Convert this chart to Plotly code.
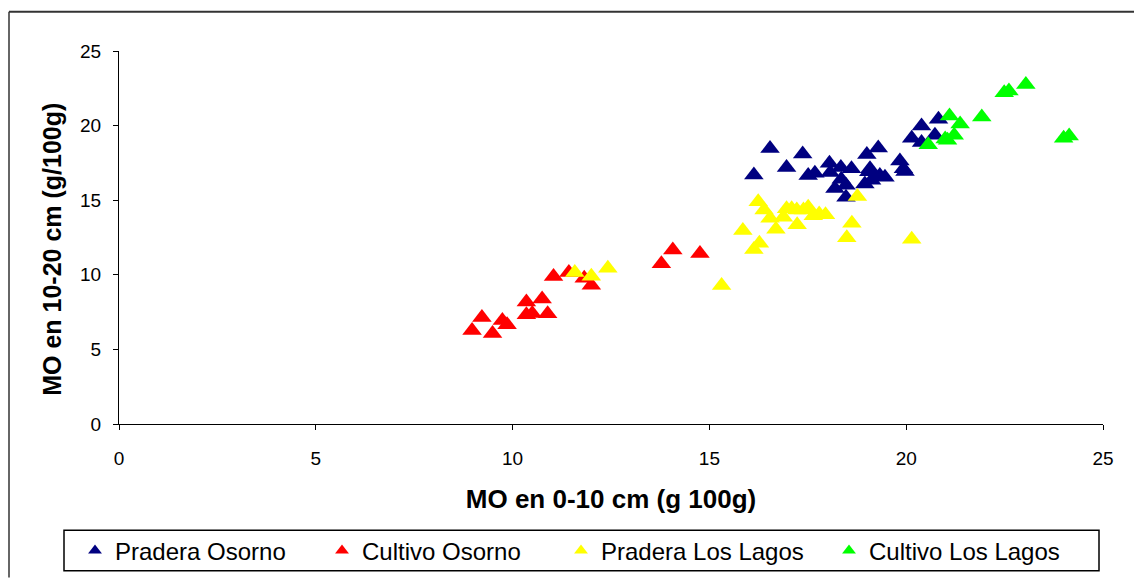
import plotly.graph_objects as go

# Materia orgánica (g/100g): capa 0-10 cm (x) frente a capa 10-20 cm (y)
pradera_osorno_x = [16.13, 16.54, 16.96, 17.37, 17.51, 17.68, 18.05, 18.07, 18.34, 18.61,
                    18.19, 18.47, 18.47, 19.00, 19.29, 19.08, 18.95, 19.12, 19.46, 19.33,
                    19.84, 19.93, 19.97, 20.14, 20.39, 20.39, 20.82, 20.73, 19.05, 18.35]
pradera_osorno_y = [16.69, 18.46, 17.20, 18.09, 16.66, 16.81, 17.48, 16.85, 17.20, 17.10,
                    15.78, 16.00, 15.20, 18.07, 18.50, 17.10, 16.08, 16.33, 16.54, 16.66,
                    17.63, 17.10, 16.93, 19.15, 19.98, 18.87, 20.43, 19.36, 16.90, 16.40]

cultivo_osorno_x = [8.97, 9.22, 9.49, 9.74, 9.86, 10.35, 10.35, 10.50, 10.75, 10.89,
                    11.04, 11.43, 11.82, 12.00, 13.78, 14.07, 14.76]
cultivo_osorno_y = [6.27, 7.14, 6.07, 6.93, 6.66, 8.18, 7.32, 7.40, 8.38, 7.39,
                    9.89, 10.16, 9.77, 9.30, 10.74, 11.67, 11.43]

pradera_lagos_x = [11.58, 12.00, 12.42, 15.31, 15.85, 16.13, 16.27, 16.24, 16.39, 16.54,
                   16.69, 16.88, 16.96, 17.09, 17.22, 17.23, 17.39, 17.51, 17.64, 17.79,
                   17.95, 18.49, 18.62, 18.76, 20.14]
pradera_lagos_y = [10.16, 9.90, 10.44, 9.28, 12.97, 11.69, 12.12, 14.89, 14.35, 13.79,
                   13.06, 13.85, 14.43, 14.43, 14.35, 13.36, 14.35, 14.53, 13.96, 14.07,
                   14.02, 12.49, 13.46, 15.25, 12.38]

cultivo_lagos_x = [20.56, 20.99, 21.05, 21.10, 21.22, 21.37, 21.92, 22.49, 22.61, 23.04,
                   24.00, 24.14]
cultivo_lagos_y = [18.72, 19.10, 19.02, 20.65, 19.36, 20.10, 20.57, 22.21, 22.32, 22.76,
                   19.16, 19.31]

series_names = ["Pradera Osorno", "Cultivo Osorno", "Pradera Los Lagos", "Cultivo Los Lagos"]
series_colors = ["#000080", "#FF0000", "#FFFF00", "#00FF00"]
series_x = [pradera_osorno_x, cultivo_osorno_x, pradera_lagos_x, cultivo_lagos_x]
series_y = [pradera_osorno_y, cultivo_osorno_y, pradera_lagos_y, cultivo_lagos_y]

x_ticks = [0, 5, 10, 15, 20, 25]
y_ticks = [0, 5, 10, 15, 20, 25]

# plot-area geometry in pixels (used to place paper-referenced decorations)
W, H = 1134, 586
ML, MR, MT, MB = 119, 31, 51, 156
PW, PH = W - ML - MR, H - MT - MB


def px_x(p):
    return (p - ML) / PW


def px_y(p):
    return (H - MB - p) / PH


fig = go.Figure()
legend_ids = ["legend", "legend2", "legend3", "legend4"]
legend_left_px = [75, 322, 561, 829]

for i, (name, color, xs, ys) in enumerate(zip(series_names, series_colors, series_x, series_y)):
    fig.add_trace(go.Scatter(
        x=xs, y=ys, mode="markers", name=name,
        marker=dict(symbol="triangle-up", size=17, color=color, line=dict(width=0)),
        legend=legend_ids[i],
    ))

legend_font = dict(family="Liberation Sans, Arial, sans-serif", size=24, color="#000000")
legend_cfg = {}
for i, lid in enumerate(legend_ids):
    legend_cfg[lid] = dict(
        x=px_x(legend_left_px[i]), xanchor="left",
        y=px_y(559), yanchor="middle",
        orientation="h", bgcolor="rgba(0,0,0,0)", borderwidth=0,
        font=legend_font, itemsizing="constant", itemwidth=30,
    )

axis_font = dict(family="Liberation Sans, Arial, sans-serif", size=19, color="#000000")
title_font = dict(family="Liberation Sans, Arial, sans-serif", size=26, color="#000000")
ytitle_font = dict(family="Liberation Sans, Arial, sans-serif", size=25, color="#000000")

fig.update_layout(
    width=W, height=H,
    margin=dict(l=ML, r=MR, t=MT, b=MB),
    paper_bgcolor="#FFFFFF", plot_bgcolor="#FFFFFF",
    xaxis=dict(
        range=[0, 25], tickvals=x_ticks, ticktext=[str(v) for v in x_ticks],
        showgrid=False, zeroline=False, showline=True, linecolor="#000000", linewidth=1,
        ticks="outside", ticklen=5, tickcolor="#000000", tickfont=axis_font,
        ticklabelstandoff=12,
        title=dict(text="<b>MO en 0-10 cm (g 100g)</b>", font=title_font, standoff=22),
    ),
    yaxis=dict(
        range=[0, 25], tickvals=y_ticks, ticktext=[str(v) for v in y_ticks],
        showgrid=False, zeroline=False, showline=True, linecolor="#000000", linewidth=1,
        ticks="outside", ticklen=5, tickcolor="#000000", tickfont=axis_font,
        ticklabelstandoff=8,
    ),
    showlegend=True,
    **legend_cfg,
    annotations=[
        # y-axis title
        dict(text="<b>MO en 10-20 cm (g/100g)</b>", font=ytitle_font, textangle=-90,
             xref="paper", yref="paper", x=px_x(52), y=px_y(253),
             xanchor="center", yanchor="middle", showarrow=False),
    ],
    shapes=[
        # legend frame
        dict(type="rect", xref="paper", yref="paper",
             x0=px_x(64), x1=px_x(1099), y0=px_y(538), y1=px_y(579),
             line=dict(color="#000000", width=1.5), fillcolor="rgba(0,0,0,0)", layer="below"),
        # chart frame (top and left edges)
        dict(type="line", xref="paper", yref="paper",
             x0=px_x(9), x1=px_x(1134), y0=px_y(11), y1=px_y(11),
             line=dict(color="#333333", width=2)),
        dict(type="line", xref="paper", yref="paper",
             x0=px_x(9), x1=px_x(9), y0=px_y(11), y1=px_y(586),
             line=dict(color="#333333", width=1.5)),
    ],
)

fig.write_html("out.html")
